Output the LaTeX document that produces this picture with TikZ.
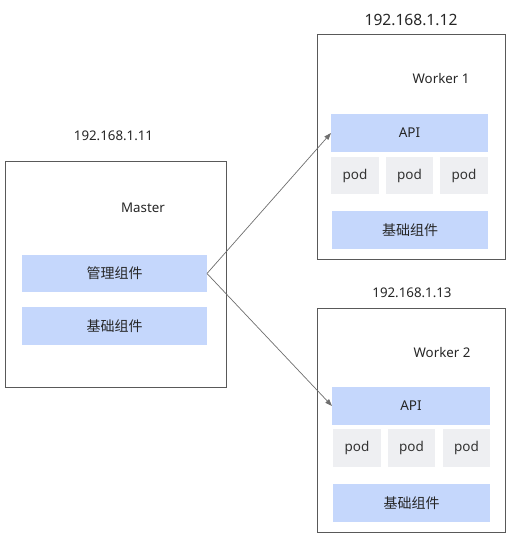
\documentclass[tikz,border=0pt]{standalone}
\usepackage{fontspec}
\setmainfont{Noto Sans}
\newfontfamily\cjk{Noto Sans CJK SC}
\usetikzlibrary{arrows.meta}
\definecolor{bluefill}{HTML}{C5D7FC}
\definecolor{podfill}{HTML}{EEEFF2}
\definecolor{frame}{HTML}{595959}
\definecolor{arr}{HTML}{6E6E6E}
\newcommand{\zh}[1]{{\cjk\fontsize{14}{16}\selectfont #1}}
\tikzset{
  hostbox/.style={draw=frame, line width=1pt, fill=white, inner sep=0pt, outer sep=0pt},
  bluebox/.style={fill=bluefill, draw=none, inner sep=0pt, outer sep=0pt, font=\fontsize{13.5}{15}\selectfont, text=black!85},
  podbox/.style={fill=podfill, draw=none, inner sep=0pt, outer sep=0pt, font=\fontsize{13.5}{15}\selectfont, text=black!80},
  lbl/.style={inner sep=0pt, font=\fontsize{13.3}{15}\selectfont, text=black!85},
  link/.style={draw=arr, line width=0.7pt, -{Triangle[length=7pt,width=5pt]}}
}
\begin{document}
\begin{tikzpicture}[x=1pt,y=-1pt]
\useasboundingbox (0,0) rectangle (525,533);
% Master
\node[hostbox, minimum width=221pt, minimum height=226pt] (master) at (115.5,274) {};
\node[lbl] (ip1) at (113.5,136) {192.168.1.11};
\node[lbl] (mlbl) at (143,208) {Master};
\node[bluebox, minimum width=185pt, minimum height=37pt] (mgmt) at (114.5,273.5) {\zh{管理组件}};
\node[bluebox, minimum width=185pt, minimum height=38pt] (base0) at (114.5,326) {\zh{基础组件}};
% Worker 1
\node[hostbox, minimum width=188pt, minimum height=225pt] (w1) at (411,146.5) {};
\node[lbl, font=\fontsize{15.6}{17}\selectfont] (ip2) at (411,19.5) {192.168.1.12};
\node[lbl] (w1lbl) at (441,79) {Worker 1};
\node[bluebox, minimum width=157pt, minimum height=38pt] (api1) at (409.5,133) {API};
\node[podbox, minimum width=48pt, minimum height=37pt] (p11) at (355,175.5) {pod};
\node[podbox, minimum width=47pt, minimum height=37pt] (p12) at (409.5,175.5) {pod};
\node[podbox, minimum width=48pt, minimum height=37pt] (p13) at (464,175.5) {pod};
\node[bluebox, minimum width=156pt, minimum height=38pt] (base1) at (410,230) {\zh{基础组件}};
% Worker 2
\node[hostbox, minimum width=188pt, minimum height=224pt] (w2) at (411,420) {};
\node[lbl] (ip3) at (412,293) {192.168.1.13};
\node[lbl] (w2lbl) at (442,353) {Worker 2};
\node[bluebox, minimum width=158pt, minimum height=38pt] (api2) at (411,406) {API};
\node[podbox, minimum width=48pt, minimum height=38pt] (p21) at (357,448) {pod};
\node[podbox, minimum width=47pt, minimum height=38pt] (p22) at (411.5,448) {pod};
\node[podbox, minimum width=47pt, minimum height=38pt] (p23) at (466.5,448) {pod};
\node[bluebox, minimum width=157pt, minimum height=38pt] (base2) at (411.5,503) {\zh{基础组件}};
% links
\draw[link] (mgmt.east) -- (api1.west);
\draw[link] (mgmt.east) -- (api2.west);
\end{tikzpicture}
\end{document}
